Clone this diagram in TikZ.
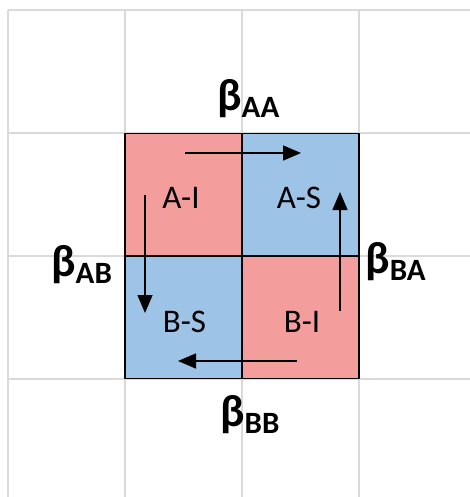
\documentclass[tikz,border=0pt]{standalone}
\usepackage{fontspec}
\setmainfont{Carlito}
\usetikzlibrary{arrows.meta}
\begin{document}
\begin{tikzpicture}[x=1pt,y=-1pt,line join=round]
    \definecolor{gridgray}{RGB}{218,218,218}
    \definecolor{cellred}{RGB}{243,157,157}
    \definecolor{cellblue}{RGB}{157,195,230}
    \tikzset{
        cell/.style={draw=black,line width=1.3pt,minimum width=117pt,minimum height=122.5pt,inner sep=0pt},
        celltxt/.style={anchor=base,inner sep=0pt,font=\fontsize{33}{33}\selectfont},
        beta/.style={anchor=base west,inner sep=0pt,font=\bfseries\fontsize{45}{45}\selectfont},
        flow/.style={line width=1.6pt,-{Triangle[length=18pt,width=15pt]}}
    }
    \newcommand{\betasub}[1]{β\fontsize{31}{31}\selectfont\raisebox{-7pt}{#1}}
    \useasboundingbox (0,0) rectangle (470,497);
    \clip (0,0) rectangle (470,497);
    % grid
    \foreach \x in {8,125,242,359}{\draw[gridgray,line width=1.6pt] (\x,10)--(\x,497);}
    \foreach \y in {10,133,256,379}{\draw[gridgray,line width=1.6pt] (8,\y)--(470,\y);}
    % cells
    \node[cell,fill=cellred] (AI) at (183.5,194.75) {};
    \node[cell,fill=cellblue] (AS) at (300.5,194.75) {};
    \node[cell,fill=cellblue] (BS) at (183.5,317.25) {};
    \node[cell,fill=cellred] (BI) at (300.5,317.25) {};
    \node[celltxt] (tAI) at (181,208) {A-I};
    \node[celltxt] (tAS) at (299,208) {A-S};
    \node[celltxt] (tBS) at (184.5,332) {B-S};
    \node[celltxt] (tBI) at (302,332) {B-I};
    % rates
    \node[beta] (bAA) at (217,111) {\betasub{AA}};
    \node[beta] (bAB) at (51,276) {\betasub{AB}};
    \node[beta] (bBA) at (365,273) {\betasub{BA}};
    \node[beta] (bBB) at (220,426) {\betasub{BB}};
    % flows
    \coordinate (f1) at (185,153); \coordinate (f2) at (301,153);
    \coordinate (f3) at (145,195); \coordinate (f4) at (145,313);
    \coordinate (f5) at (340,311); \coordinate (f6) at (340,192);
    \coordinate (f7) at (297,361); \coordinate (f8) at (178,361);
    \draw[flow] (f1)--(f2);
    \draw[flow] (f3)--(f4);
    \draw[flow] (f5)--(f6);
    \draw[flow] (f7)--(f8);
\end{tikzpicture}
\end{document}
